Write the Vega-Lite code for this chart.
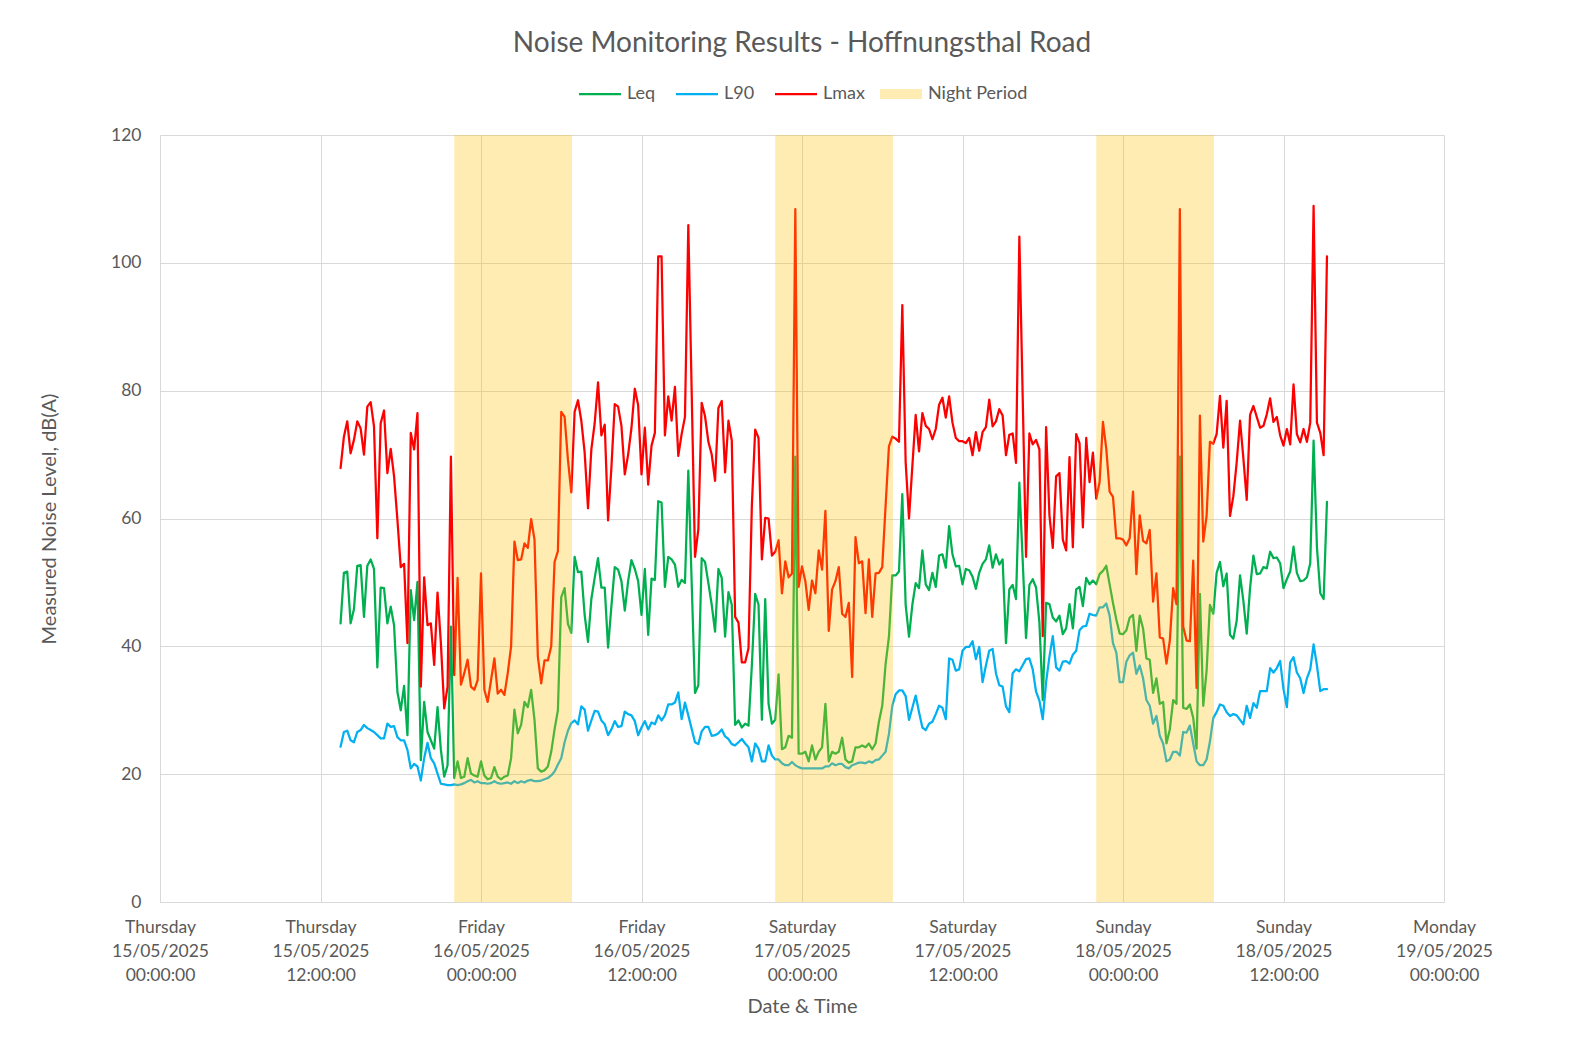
{
  "$schema": "https://vega.github.io/schema/vega-lite/v6.json",
  "width": 1284,
  "height": 767,
  "autosize": {"type": "none"},
  "padding": {"left": 160, "top": 135, "right": 135, "bottom": 136},
  "background": "white",
  "title": {"text": "Noise Monitoring Results - Hoffnungsthal Road", "font": "Lato", "fontSize": 28, "fontWeight": "normal", "color": "#595959", "anchor": "middle", "frame": "group", "offset": 27},
  "config": {"view": {"stroke": null}, "font": "Lato"},
  "datasets": {
    "night": [
      {"start": 22, "end": 30.8},
      {"start": 46, "end": 54.8},
      {"start": 70, "end": 78.8}
    ],
    "noise": [
      {"h":13.5,"Leq":43.6,"L90":24.3,"Lmax":67.9},
      {"h":13.75,"Leq":51.5,"L90":26.6,"Lmax":72.8},
      {"h":14.0,"Leq":51.7,"L90":26.8,"Lmax":75.2},
      {"h":14.25,"Leq":43.6,"L90":25.3,"Lmax":70.2},
      {"h":14.5,"Leq":45.8,"L90":25.0,"Lmax":72.3},
      {"h":14.75,"Leq":52.6,"L90":26.6,"Lmax":75.2},
      {"h":15.0,"Leq":52.7,"L90":26.9,"Lmax":74.1},
      {"h":15.25,"Leq":44.6,"L90":27.7,"Lmax":70.0},
      {"h":15.5,"Leq":52.6,"L90":27.2,"Lmax":77.5},
      {"h":15.75,"Leq":53.6,"L90":26.9,"Lmax":78.2},
      {"h":16.0,"Leq":52.1,"L90":26.6,"Lmax":74.4},
      {"h":16.25,"Leq":36.7,"L90":26.1,"Lmax":56.9},
      {"h":16.5,"Leq":49.2,"L90":25.6,"Lmax":74.9},
      {"h":16.75,"Leq":49.1,"L90":25.6,"Lmax":76.9},
      {"h":17.0,"Leq":43.6,"L90":27.9,"Lmax":67.1},
      {"h":17.25,"Leq":46.2,"L90":27.4,"Lmax":70.9},
      {"h":17.5,"Leq":43.3,"L90":27.5,"Lmax":66.6},
      {"h":17.75,"Leq":32.9,"L90":25.8,"Lmax":59.8},
      {"h":18.0,"Leq":30.0,"L90":25.3,"Lmax":52.4},
      {"h":18.25,"Leq":33.8,"L90":25.3,"Lmax":52.9},
      {"h":18.5,"Leq":26.1,"L90":23.8,"Lmax":40.5},
      {"h":18.75,"Leq":48.8,"L90":20.9,"Lmax":73.4},
      {"h":19.0,"Leq":44.1,"L90":21.6,"Lmax":70.8},
      {"h":19.25,"Leq":50.1,"L90":21.2,"Lmax":76.5},
      {"h":19.5,"Leq":22.2,"L90":19.0,"Lmax":33.7},
      {"h":19.75,"Leq":31.3,"L90":22.5,"Lmax":50.8},
      {"h":20.0,"Leq":26.6,"L90":24.9,"Lmax":43.3},
      {"h":20.25,"Leq":25.3,"L90":22.5,"Lmax":43.6},
      {"h":20.5,"Leq":24.0,"L90":21.7,"Lmax":37.1},
      {"h":20.75,"Leq":30.5,"L90":20.1,"Lmax":48.4},
      {"h":21.0,"Leq":23.8,"L90":18.5,"Lmax":40.5},
      {"h":21.25,"Leq":19.6,"L90":18.4,"Lmax":30.3},
      {"h":21.5,"Leq":21.4,"L90":18.3,"Lmax":33.7},
      {"h":21.75,"Leq":43.1,"L90":18.3,"Lmax":69.7},
      {"h":22.0,"Leq":19.4,"L90":18.4,"Lmax":35.5},
      {"h":22.25,"Leq":22.0,"L90":18.3,"Lmax":50.7},
      {"h":22.5,"Leq":19.4,"L90":18.4,"Lmax":34.0},
      {"h":22.75,"Leq":19.6,"L90":18.6,"Lmax":35.8},
      {"h":23.0,"Leq":22.5,"L90":18.9,"Lmax":37.9},
      {"h":23.25,"Leq":20.1,"L90":19.1,"Lmax":33.7},
      {"h":23.5,"Leq":19.8,"L90":18.7,"Lmax":33.2},
      {"h":23.75,"Leq":19.6,"L90":18.9,"Lmax":34.7},
      {"h":24.0,"Leq":22.0,"L90":18.6,"Lmax":51.4},
      {"h":24.25,"Leq":19.8,"L90":18.6,"Lmax":33.2},
      {"h":24.5,"Leq":19.2,"L90":18.5,"Lmax":31.3},
      {"h":24.75,"Leq":19.4,"L90":18.6,"Lmax":34.7},
      {"h":25.0,"Leq":21.1,"L90":18.9,"Lmax":38.1},
      {"h":25.25,"Leq":19.6,"L90":18.6,"Lmax":32.6},
      {"h":25.5,"Leq":19.2,"L90":18.5,"Lmax":33.2},
      {"h":25.75,"Leq":19.6,"L90":18.6,"Lmax":32.4},
      {"h":26.0,"Leq":19.8,"L90":18.7,"Lmax":35.8},
      {"h":26.25,"Leq":22.5,"L90":18.5,"Lmax":40.0},
      {"h":26.5,"Leq":30.1,"L90":18.9,"Lmax":56.4},
      {"h":26.75,"Leq":26.4,"L90":18.6,"Lmax":53.5},
      {"h":27.0,"Leq":27.7,"L90":18.9,"Lmax":53.6},
      {"h":27.25,"Leq":31.3,"L90":18.7,"Lmax":56.1},
      {"h":27.5,"Leq":30.5,"L90":19.0,"Lmax":55.4},
      {"h":27.75,"Leq":33.2,"L90":19.1,"Lmax":59.9},
      {"h":28.0,"Leq":28.5,"L90":18.9,"Lmax":56.7},
      {"h":28.25,"Leq":20.9,"L90":18.9,"Lmax":38.4},
      {"h":28.5,"Leq":20.4,"L90":19.0,"Lmax":34.2},
      {"h":28.75,"Leq":20.6,"L90":19.2,"Lmax":37.8},
      {"h":29.0,"Leq":21.2,"L90":19.4,"Lmax":37.8},
      {"h":29.25,"Leq":23.5,"L90":19.8,"Lmax":40.0},
      {"h":29.5,"Leq":27.0,"L90":20.4,"Lmax":53.2},
      {"h":29.75,"Leq":30.0,"L90":21.5,"Lmax":54.9},
      {"h":30.0,"Leq":47.7,"L90":22.5,"Lmax":76.7},
      {"h":30.25,"Leq":49.1,"L90":25.0,"Lmax":75.9},
      {"h":30.5,"Leq":43.5,"L90":26.8,"Lmax":69.2},
      {"h":30.75,"Leq":42.1,"L90":28.0,"Lmax":64.1},
      {"h":31.0,"Leq":54.0,"L90":28.4,"Lmax":76.7},
      {"h":31.25,"Leq":51.6,"L90":27.8,"Lmax":78.5},
      {"h":31.5,"Leq":51.7,"L90":30.6,"Lmax":75.3},
      {"h":31.75,"Leq":44.9,"L90":30.1,"Lmax":70.3},
      {"h":32.0,"Leq":40.7,"L90":26.8,"Lmax":61.6},
      {"h":32.25,"Leq":47.4,"L90":28.4,"Lmax":70.8},
      {"h":32.5,"Leq":50.7,"L90":29.9,"Lmax":74.9},
      {"h":32.75,"Leq":53.8,"L90":29.8,"Lmax":81.3},
      {"h":33.0,"Leq":49.2,"L90":28.4,"Lmax":73.0},
      {"h":33.25,"Leq":49.2,"L90":27.8,"Lmax":74.7},
      {"h":33.5,"Leq":39.8,"L90":26.1,"Lmax":59.7},
      {"h":33.75,"Leq":46.3,"L90":27.0,"Lmax":68.0},
      {"h":34.0,"Leq":52.4,"L90":28.3,"Lmax":77.9},
      {"h":34.25,"Leq":52.0,"L90":27.4,"Lmax":77.5},
      {"h":34.5,"Leq":50.2,"L90":27.5,"Lmax":74.5},
      {"h":34.75,"Leq":45.6,"L90":29.8,"Lmax":66.9},
      {"h":35.0,"Leq":50.2,"L90":29.4,"Lmax":70.0},
      {"h":35.25,"Leq":53.5,"L90":29.2,"Lmax":74.2},
      {"h":35.5,"Leq":52.1,"L90":28.3,"Lmax":80.3},
      {"h":35.75,"Leq":50.2,"L90":26.1,"Lmax":77.7},
      {"h":36.0,"Leq":44.9,"L90":27.3,"Lmax":66.9},
      {"h":36.25,"Leq":52.1,"L90":28.3,"Lmax":74.2},
      {"h":36.5,"Leq":41.8,"L90":27.0,"Lmax":65.3},
      {"h":36.75,"Leq":50.6,"L90":28.1,"Lmax":71.4},
      {"h":37.0,"Leq":50.4,"L90":27.8,"Lmax":73.4},
      {"h":37.25,"Leq":62.7,"L90":29.2,"Lmax":101.0},
      {"h":37.5,"Leq":62.5,"L90":28.4,"Lmax":101.0},
      {"h":37.75,"Leq":49.3,"L90":29.2,"Lmax":73.0},
      {"h":38.0,"Leq":54.0,"L90":30.9,"Lmax":79.1},
      {"h":38.25,"Leq":53.6,"L90":30.9,"Lmax":75.3},
      {"h":38.5,"Leq":52.8,"L90":31.2,"Lmax":80.6},
      {"h":38.75,"Leq":49.3,"L90":32.8,"Lmax":69.8},
      {"h":39.0,"Leq":50.4,"L90":28.6,"Lmax":73.2},
      {"h":39.25,"Leq":49.9,"L90":31.2,"Lmax":75.9},
      {"h":39.5,"Leq":67.5,"L90":29.2,"Lmax":105.9},
      {"h":40.0,"Leq":32.7,"L90":25.0,"Lmax":54.0},
      {"h":40.25,"Leq":33.9,"L90":24.7,"Lmax":58.3},
      {"h":40.5,"Leq":53.8,"L90":26.7,"Lmax":78.1},
      {"h":40.75,"Leq":53.2,"L90":27.4,"Lmax":76.0},
      {"h":41.0,"Leq":49.9,"L90":27.4,"Lmax":72.0},
      {"h":41.25,"Leq":46.5,"L90":26.0,"Lmax":70.0},
      {"h":41.5,"Leq":42.3,"L90":26.1,"Lmax":65.9},
      {"h":41.75,"Leq":52.1,"L90":26.4,"Lmax":77.3},
      {"h":42.0,"Leq":50.7,"L90":27.0,"Lmax":78.4},
      {"h":42.25,"Leq":41.5,"L90":25.9,"Lmax":67.2},
      {"h":42.5,"Leq":48.5,"L90":25.5,"Lmax":75.3},
      {"h":42.75,"Leq":46.5,"L90":24.7,"Lmax":72.2},
      {"h":43.0,"Leq":27.7,"L90":24.5,"Lmax":44.6},
      {"h":43.25,"Leq":28.4,"L90":25.0,"Lmax":43.7},
      {"h":43.5,"Leq":27.3,"L90":25.5,"Lmax":37.5},
      {"h":43.75,"Leq":27.9,"L90":24.8,"Lmax":37.5},
      {"h":44.0,"Leq":27.6,"L90":24.2,"Lmax":39.7},
      {"h":44.25,"Leq":37.0,"L90":22.0,"Lmax":62.0},
      {"h":44.5,"Leq":48.2,"L90":24.8,"Lmax":73.9},
      {"h":44.75,"Leq":46.5,"L90":24.0,"Lmax":72.6},
      {"h":45.0,"Leq":28.5,"L90":22.0,"Lmax":53.6},
      {"h":45.25,"Leq":47.4,"L90":22.0,"Lmax":60.1},
      {"h":45.5,"Leq":31.0,"L90":24.5,"Lmax":60.0},
      {"h":45.75,"Leq":27.9,"L90":22.9,"Lmax":54.2},
      {"h":46.0,"Leq":28.5,"L90":22.3,"Lmax":54.8},
      {"h":46.25,"Leq":35.6,"L90":22.3,"Lmax":56.6},
      {"h":46.5,"Leq":23.9,"L90":21.7,"Lmax":48.3},
      {"h":46.75,"Leq":24.2,"L90":21.4,"Lmax":53.3},
      {"h":47.0,"Leq":26.0,"L90":21.4,"Lmax":50.8},
      {"h":47.25,"Leq":25.7,"L90":21.9,"Lmax":51.4},
      {"h":47.5,"Leq":69.7,"L90":21.4,"Lmax":108.4},
      {"h":47.75,"Leq":23.2,"L90":21.1,"Lmax":49.3},
      {"h":48.0,"Leq":23.2,"L90":20.9,"Lmax":52.5},
      {"h":48.25,"Leq":23.5,"L90":20.9,"Lmax":50.2},
      {"h":48.5,"Leq":22.0,"L90":20.9,"Lmax":45.7},
      {"h":48.75,"Leq":24.5,"L90":20.9,"Lmax":50.3},
      {"h":49.0,"Leq":22.3,"L90":20.9,"Lmax":48.3},
      {"h":49.25,"Leq":23.5,"L90":20.9,"Lmax":55.0},
      {"h":49.5,"Leq":24.2,"L90":20.9,"Lmax":52.0},
      {"h":49.75,"Leq":31.0,"L90":21.2,"Lmax":61.2},
      {"h":50.0,"Leq":22.0,"L90":21.2,"Lmax":42.4},
      {"h":50.25,"Leq":23.5,"L90":21.7,"Lmax":48.9},
      {"h":50.5,"Leq":23.2,"L90":21.4,"Lmax":50.2},
      {"h":50.75,"Leq":23.5,"L90":21.6,"Lmax":52.4},
      {"h":51.0,"Leq":25.7,"L90":21.6,"Lmax":45.1},
      {"h":51.25,"Leq":22.3,"L90":21.1,"Lmax":44.6},
      {"h":51.5,"Leq":21.8,"L90":20.9,"Lmax":46.8},
      {"h":51.75,"Leq":22.0,"L90":21.4,"Lmax":35.2},
      {"h":52.0,"Leq":24.2,"L90":21.6,"Lmax":57.1},
      {"h":52.25,"Leq":24.2,"L90":21.8,"Lmax":53.0},
      {"h":52.5,"Leq":24.5,"L90":21.8,"Lmax":53.3},
      {"h":52.75,"Leq":24.2,"L90":21.7,"Lmax":45.2},
      {"h":53.0,"Leq":24.8,"L90":22.0,"Lmax":53.6},
      {"h":53.25,"Leq":23.9,"L90":21.8,"Lmax":44.6},
      {"h":53.5,"Leq":24.8,"L90":22.2,"Lmax":51.4},
      {"h":53.75,"Leq":28.2,"L90":22.3,"Lmax":51.5},
      {"h":54.0,"Leq":30.7,"L90":22.9,"Lmax":52.4},
      {"h":54.25,"Leq":37.2,"L90":23.5,"Lmax":62.0},
      {"h":54.5,"Leq":41.5,"L90":26.3,"Lmax":71.3},
      {"h":54.75,"Leq":51.1,"L90":30.7,"Lmax":72.8},
      {"h":55.0,"Leq":51.1,"L90":32.5,"Lmax":72.5},
      {"h":55.25,"Leq":51.7,"L90":33.1,"Lmax":72.0},
      {"h":55.5,"Leq":63.8,"L90":33.1,"Lmax":93.4},
      {"h":55.75,"Leq":46.5,"L90":32.2,"Lmax":68.8},
      {"h":56.0,"Leq":41.5,"L90":28.5,"Lmax":60.0},
      {"h":56.25,"Leq":46.5,"L90":30.4,"Lmax":68.2},
      {"h":56.5,"Leq":49.9,"L90":32.3,"Lmax":76.2},
      {"h":56.75,"Leq":49.1,"L90":29.7,"Lmax":70.5},
      {"h":57.0,"Leq":55.0,"L90":27.3,"Lmax":76.5},
      {"h":57.25,"Leq":49.7,"L90":26.9,"Lmax":74.5},
      {"h":57.5,"Leq":48.8,"L90":27.9,"Lmax":74.0},
      {"h":57.75,"Leq":51.5,"L90":28.2,"Lmax":72.4},
      {"h":58.0,"Leq":49.3,"L90":29.4,"Lmax":74.0},
      {"h":58.25,"Leq":54.2,"L90":30.7,"Lmax":77.8},
      {"h":58.5,"Leq":54.4,"L90":30.4,"Lmax":78.9},
      {"h":58.75,"Leq":52.3,"L90":28.6,"Lmax":75.8},
      {"h":59.0,"Leq":58.8,"L90":38.1,"Lmax":79.1},
      {"h":59.25,"Leq":54.4,"L90":37.9,"Lmax":75.0},
      {"h":59.5,"Leq":52.5,"L90":36.2,"Lmax":72.6},
      {"h":59.75,"Leq":52.6,"L90":36.4,"Lmax":72.1},
      {"h":60.0,"Leq":49.7,"L90":39.3,"Lmax":72.1},
      {"h":60.25,"Leq":52.1,"L90":39.9,"Lmax":71.8},
      {"h":60.5,"Leq":51.9,"L90":39.9,"Lmax":72.6},
      {"h":60.75,"Leq":50.9,"L90":40.8,"Lmax":69.9},
      {"h":61.0,"Leq":49.0,"L90":38.0,"Lmax":73.5},
      {"h":61.25,"Leq":51.5,"L90":39.9,"Lmax":70.6},
      {"h":61.5,"Leq":52.9,"L90":34.4,"Lmax":73.5},
      {"h":61.75,"Leq":53.6,"L90":37.0,"Lmax":74.3},
      {"h":62.0,"Leq":55.8,"L90":39.3,"Lmax":78.6},
      {"h":62.25,"Leq":52.3,"L90":39.6,"Lmax":74.4},
      {"h":62.5,"Leq":54.4,"L90":35.8,"Lmax":75.2},
      {"h":62.75,"Leq":52.8,"L90":33.9,"Lmax":77.1},
      {"h":63.0,"Leq":53.6,"L90":33.7,"Lmax":76.1},
      {"h":63.25,"Leq":40.5,"L90":30.6,"Lmax":69.9},
      {"h":63.5,"Leq":48.9,"L90":29.7,"Lmax":73.1},
      {"h":63.75,"Leq":49.6,"L90":35.8,"Lmax":73.3},
      {"h":64.0,"Leq":47.4,"L90":36.4,"Lmax":68.7},
      {"h":64.25,"Leq":65.6,"L90":36.1,"Lmax":104.1},
      {"h":64.75,"Leq":41.3,"L90":38.0,"Lmax":54.0},
      {"h":65.0,"Leq":49.6,"L90":38.1,"Lmax":73.3},
      {"h":65.25,"Leq":50.5,"L90":36.4,"Lmax":71.6},
      {"h":65.5,"Leq":49.2,"L90":32.9,"Lmax":72.3},
      {"h":65.75,"Leq":43.7,"L90":31.5,"Lmax":70.8},
      {"h":66.0,"Leq":31.6,"L90":28.6,"Lmax":41.6},
      {"h":66.25,"Leq":46.8,"L90":34.4,"Lmax":74.3},
      {"h":66.5,"Leq":46.6,"L90":38.4,"Lmax":60.5},
      {"h":66.75,"Leq":44.5,"L90":41.6,"Lmax":55.4},
      {"h":67.0,"Leq":43.9,"L90":36.7,"Lmax":66.6},
      {"h":67.25,"Leq":44.8,"L90":36.2,"Lmax":67.1},
      {"h":67.5,"Leq":41.9,"L90":37.6,"Lmax":56.7},
      {"h":67.75,"Leq":42.8,"L90":37.7,"Lmax":55.0},
      {"h":68.0,"Leq":46.6,"L90":37.3,"Lmax":69.6},
      {"h":68.25,"Leq":42.8,"L90":38.7,"Lmax":55.5},
      {"h":68.5,"Leq":48.9,"L90":39.3,"Lmax":73.2},
      {"h":68.75,"Leq":49.3,"L90":42.5,"Lmax":71.8},
      {"h":69.0,"Leq":46.3,"L90":43.1,"Lmax":58.6},
      {"h":69.25,"Leq":50.7,"L90":43.2,"Lmax":72.6},
      {"h":69.5,"Leq":49.7,"L90":45.1,"Lmax":65.7},
      {"h":69.75,"Leq":50.3,"L90":44.9,"Lmax":70.3},
      {"h":70.0,"Leq":49.7,"L90":44.8,"Lmax":63.1},
      {"h":70.25,"Leq":51.3,"L90":46.1,"Lmax":65.7},
      {"h":70.5,"Leq":51.8,"L90":46.1,"Lmax":75.1},
      {"h":70.75,"Leq":52.6,"L90":46.7,"Lmax":70.9},
      {"h":71.0,"Leq":49.7,"L90":44.8,"Lmax":64.2},
      {"h":71.25,"Leq":46.8,"L90":40.5,"Lmax":63.4},
      {"h":71.5,"Leq":44.2,"L90":39.0,"Lmax":56.9},
      {"h":71.75,"Leq":42.0,"L90":34.4,"Lmax":56.9},
      {"h":72.0,"Leq":41.9,"L90":34.4,"Lmax":56.7},
      {"h":72.25,"Leq":42.5,"L90":37.6,"Lmax":55.8},
      {"h":72.5,"Leq":44.5,"L90":38.6,"Lmax":56.9},
      {"h":72.75,"Leq":44.9,"L90":39.0,"Lmax":64.2},
      {"h":73.0,"Leq":39.3,"L90":35.7,"Lmax":51.3},
      {"h":73.25,"Leq":44.8,"L90":37.0,"Lmax":60.5},
      {"h":73.5,"Leq":42.8,"L90":35.0,"Lmax":56.5},
      {"h":73.75,"Leq":38.1,"L90":31.6,"Lmax":56.1},
      {"h":74.0,"Leq":37.9,"L90":30.7,"Lmax":58.2},
      {"h":74.25,"Leq":32.7,"L90":27.9,"Lmax":47.0},
      {"h":74.5,"Leq":35.0,"L90":29.1,"Lmax":51.4},
      {"h":74.75,"Leq":31.0,"L90":26.0,"Lmax":41.4},
      {"h":75.0,"Leq":31.3,"L90":24.8,"Lmax":41.2},
      {"h":75.25,"Leq":24.8,"L90":22.0,"Lmax":37.3},
      {"h":75.5,"Leq":27.0,"L90":22.3,"Lmax":40.9},
      {"h":75.75,"Leq":31.6,"L90":23.5,"Lmax":49.1},
      {"h":76.0,"Leq":31.0,"L90":23.5,"Lmax":46.6},
      {"h":76.25,"Leq":69.7,"L90":22.9,"Lmax":108.4},
      {"h":76.5,"Leq":30.4,"L90":26.6,"Lmax":43.1},
      {"h":76.75,"Leq":30.2,"L90":26.5,"Lmax":40.9},
      {"h":77.0,"Leq":30.9,"L90":27.6,"Lmax":40.8},
      {"h":77.25,"Leq":28.8,"L90":24.8,"Lmax":53.4},
      {"h":77.5,"Leq":24.0,"L90":22.0,"Lmax":33.5},
      {"h":77.75,"Leq":48.2,"L90":21.4,"Lmax":76.1},
      {"h":78.0,"Leq":30.7,"L90":21.4,"Lmax":56.4},
      {"h":78.25,"Leq":36.2,"L90":22.3,"Lmax":60.4},
      {"h":78.5,"Leq":46.5,"L90":25.1,"Lmax":72.0},
      {"h":78.75,"Leq":45.1,"L90":28.8,"Lmax":71.7},
      {"h":79.0,"Leq":51.5,"L90":29.7,"Lmax":73.2},
      {"h":79.25,"Leq":53.2,"L90":30.9,"Lmax":79.2},
      {"h":79.5,"Leq":49.4,"L90":30.7,"Lmax":71.1},
      {"h":79.75,"Leq":51.4,"L90":29.7,"Lmax":78.4},
      {"h":80.0,"Leq":41.8,"L90":29.1,"Lmax":60.4},
      {"h":80.25,"Leq":41.2,"L90":29.4,"Lmax":63.5},
      {"h":80.5,"Leq":44.0,"L90":29.2,"Lmax":68.8},
      {"h":80.75,"Leq":51.1,"L90":28.5,"Lmax":75.3},
      {"h":81.0,"Leq":47.1,"L90":27.8,"Lmax":69.4},
      {"h":81.25,"Leq":42.0,"L90":30.7,"Lmax":62.9},
      {"h":81.5,"Leq":49.1,"L90":28.8,"Lmax":76.2},
      {"h":81.75,"Leq":54.2,"L90":31.1,"Lmax":77.6},
      {"h":82.0,"Leq":51.3,"L90":30.4,"Lmax":75.9},
      {"h":82.25,"Leq":51.4,"L90":33.0,"Lmax":74.2},
      {"h":82.5,"Leq":52.4,"L90":33.0,"Lmax":74.5},
      {"h":82.75,"Leq":52.2,"L90":33.0,"Lmax":76.3},
      {"h":83.0,"Leq":54.8,"L90":36.6,"Lmax":78.8},
      {"h":83.25,"Leq":53.8,"L90":35.9,"Lmax":75.1},
      {"h":83.5,"Leq":53.9,"L90":36.6,"Lmax":75.9},
      {"h":83.75,"Leq":53.0,"L90":37.7,"Lmax":73.0},
      {"h":84.0,"Leq":49.1,"L90":33.3,"Lmax":71.4},
      {"h":84.25,"Leq":50.5,"L90":30.5,"Lmax":74.0},
      {"h":84.5,"Leq":51.7,"L90":37.5,"Lmax":71.6},
      {"h":84.75,"Leq":55.6,"L90":38.3,"Lmax":81.0},
      {"h":85.0,"Leq":51.5,"L90":35.9,"Lmax":73.2},
      {"h":85.25,"Leq":50.2,"L90":35.0,"Lmax":71.9},
      {"h":85.5,"Leq":50.3,"L90":32.7,"Lmax":74.0},
      {"h":85.75,"Leq":50.8,"L90":35.0,"Lmax":72.0},
      {"h":86.0,"Leq":53.0,"L90":36.4,"Lmax":75.0},
      {"h":86.25,"Leq":72.2,"L90":40.3,"Lmax":108.9},
      {"h":86.5,"Leq":55.5,"L90":37.0,"Lmax":75.0},
      {"h":86.75,"Leq":48.3,"L90":33.0,"Lmax":73.4},
      {"h":87.0,"Leq":47.4,"L90":33.3,"Lmax":69.9},
      {"h":87.25,"Leq":62.6,"L90":33.3,"Lmax":101.0}
    ]
  },
  "layer": [
    {
      "data": {"name": "noise"},
      "transform": [{"fold": ["Leq", "L90", "Lmax"], "as": ["series", "level"]}],
      "mark": {"type": "line", "strokeWidth": 2.25, "strokeJoin": "round", "strokeCap": "round"},
      "encoding": {
        "x": {
          "field": "h", "type": "quantitative",
          "scale": {"domain": [0, 96], "nice": false, "zero": false},
          "axis": {
            "title": "Date & Time",
            "values": [0, 12, 24, 36, 48, 60, 72, 84, 96],
            "labelExpr": "[['Thursday','Thursday','Friday','Friday','Saturday','Saturday','Sunday','Sunday','Monday'][datum.value/12], ['15/05/2025','15/05/2025','16/05/2025','16/05/2025','17/05/2025','17/05/2025','18/05/2025','18/05/2025','19/05/2025'][datum.value/12], datum.value % 24 == 0 ? '00:00:00' : '12:00:00']",
            "labelFont": "Lato", "labelFontSize": 17.5, "labelColor": "#595959",
            "labelLineHeight": 24.4, "labelBaseline": "top", "labelPadding": 16,
            "labelFlush": false, "labelOverlap": false,
            "ticks": false, "grid": true, "gridColor": "#D9D9D9", "gridWidth": 1,
            "domain": true, "domainColor": "#D9D9D9", "domainWidth": 1,
            "titleFont": "Lato", "titleFontSize": 20, "titleFontWeight": "normal", "titleColor": "#595959", "titlePadding": 12
          }
        },
        "y": {
          "field": "level", "type": "quantitative",
          "scale": {"domain": [0, 120], "nice": false},
          "axis": {
            "title": "Measured Noise Level, dB(A)",
            "values": [0, 20, 40, 60, 80, 100, 120],
            "labelFont": "Lato", "labelFontSize": 17.5, "labelColor": "#595959", "labelPadding": 19,
            "ticks": false, "domain": false, "grid": true, "gridColor": "#D9D9D9", "gridWidth": 1,
            "titleFont": "Lato", "titleFontSize": 20, "titleFontWeight": "normal", "titleColor": "#595959", "titlePadding": 51
          }
        },
        "color": {
          "field": "series", "type": "nominal",
          "scale": {"domain": ["Leq", "L90", "Lmax", "Night Period"], "range": ["#00B050", "#00B0F0", "#FF0000", "#FFC000"]},
          "legend": {
            "title": null, "orient": "none", "legendX": 431, "legendY": -50, "direction": "horizontal",
            "symbolType": "stroke", "symbolSize": 1764, "symbolStrokeWidth": 2.25,
            "labelFont": "Lato", "labelFontSize": 18, "labelColor": "#595959", "labelOffset": 18, "columnPadding": 15,
            "encode": {"symbols": {"update": {
              "shape": {"signal": "datum.value === 'Night Period' ? 'M-1,-0.24H1V0.24H-1Z' : 'stroke'"},
              "fill": {"signal": "datum.value === 'Night Period' ? '#FFC000' : 'transparent'"},
              "stroke": {"signal": "datum.value === 'Night Period' ? 'transparent' : scale('color', datum.value)"},
              "strokeWidth": {"signal": "datum.value === 'Night Period' ? 0 : 2.25"},
              "opacity": {"signal": "datum.value === 'Night Period' ? 0.3 : 1"}
            }}}
          }
        }
      }
    },
    {
      "data": {"name": "night"},
      "mark": {"type": "rect", "fill": "#FFC000", "opacity": 0.3},
      "encoding": {
        "x": {"field": "start", "type": "quantitative"},
        "x2": {"field": "end"}
      }
    }
  ]
}
